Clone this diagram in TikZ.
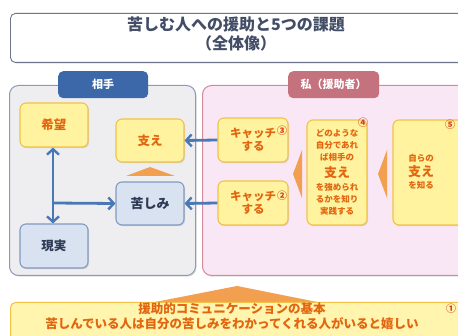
\documentclass[tikz,border=0pt]{standalone}
\usepackage{fontspec}
\setmainfont{Noto Sans CJK JP}
\usetikzlibrary{arrows.meta,shadows}
\definecolor{navy}{HTML}{2E3A55}
\definecolor{tabblue}{HTML}{3C67A8}
\definecolor{lpanel}{HTML}{EEEEF0}
\definecolor{lborder}{HTML}{8A9AB8}
\definecolor{ybox}{HTML}{FFF3A0}
\definecolor{yborder}{HTML}{F2C248}
\definecolor{bbox}{HTML}{D9E2F0}
\definecolor{bborder}{HTML}{8299C2}
\definecolor{otext}{HTML}{E2650F}
\definecolor{arrowblue}{HTML}{4A78B4}
\definecolor{rpanel}{HTML}{F9E7F6}
\definecolor{rborder}{HTML}{D38A9A}
\definecolor{tabrose}{HTML}{C4727E}
\definecolor{tri}{HTML}{F2A050}
\definecolor{numred}{HTML}{D8401A}
\begin{document}
\begin{tikzpicture}[x=1pt,y=-1pt,
  >={Straight Barb[length=5.5pt,width=12pt,line width=2.4pt]},
  shade/.style={drop shadow={shadow xshift=1pt,shadow yshift=-1.2pt,opacity=0.25}},
  ybox/.style={draw=yborder,line width=1.1pt,fill=ybox,rounded corners=6pt,shade,
     text=otext,font=\bfseries,align=center,inner sep=0pt},
  bbox/.style={draw=bborder,line width=1.1pt,fill=bbox,rounded corners=6pt,shade,
     text=navy,font=\bfseries,align=center,inner sep=0pt},
  tabnode/.style={rounded corners=5pt,text=white,font=\bfseries\fontsize{11}{13}\selectfont,inner sep=0pt},
  num/.style={text=numred,font=\bfseries\fontsize{10}{10}\selectfont,inner sep=0pt},
  barrow/.style={draw=arrowblue,line width=2.8pt,->},
  triangle/.style={fill=tri,draw=none}
]
\clip (0,0) rectangle (458,336);
\fill[white] (0,0) rectangle (458,336);

% title
\node[draw=navy!70,line width=0.9pt,fill=white,rounded corners=5pt,shade,
  minimum width=470pt,minimum height=49pt,anchor=north west,inner sep=0pt] (title) at (10,13) {};
\node[text=navy!90,font=\bfseries\fontsize{16}{19}\selectfont,align=center] (titletext) at (236,34)
  {苦しむ人への援助と5つの課題\\（全体像）};

% left panel
\node[draw=lborder,line width=1pt,fill=lpanel,rounded corners=9pt,shade,
  minimum width=186pt,minimum height=190pt,anchor=north west,inner sep=0pt] (lpanel) at (9,85) {};
\node[tabnode,fill=tabblue,minimum width=90pt,minimum height=27pt,anchor=north west] (ltab) at (58,71) {相手};

% right panel
\node[draw=rborder,line width=1pt,fill=rpanel,rounded corners=9pt,shade,
  minimum width=270pt,minimum height=190pt,anchor=north west,inner sep=0pt] (rpanel) at (202,85) {};
\node[tabnode,fill=tabrose,minimum width=91pt,minimum height=27pt,anchor=north west] (rtab) at (288,71) {私（援助者）};

% left boxes
\node[ybox,minimum width=68pt,minimum height=44pt,font=\bfseries\fontsize{12.5}{14}\selectfont] (kibou) at (54,125) {希望};
\node[ybox,minimum width=68pt,minimum height=43pt,font=\bfseries\fontsize{12.5}{14}\selectfont] (sasae) at (150,140.5) {支え};
\node[bbox,minimum width=68pt,minimum height=43pt,font=\bfseries\fontsize{13}{14}\selectfont] (kurushimi) at (150,203.5) {苦しみ};
\node[bbox,minimum width=68pt,minimum height=44pt,font=\bfseries\fontsize{12.5}{14}\selectfont] (genjitsu) at (54,246) {現実};
\fill[triangle] (126,176) -- (150,167) -- (175,176) -- cycle;

% arrows in left panel
\coordinate (junc) at (53,203);
\draw[arrowblue,line width=2.8pt,<->]
  (kibou.south -| junc) -- (genjitsu.north -| junc);
\draw[barrow] (junc) -- (kurushimi.west);

% right boxes
\node[ybox,minimum width=70pt,minimum height=44pt,font=\bfseries\fontsize{11.5}{13.5}\selectfont] (catch3) at (253,140) {キャッチ\\する};
\node[ybox,minimum width=70pt,minimum height=44pt,font=\bfseries\fontsize{11.5}{13.5}\selectfont] (catch2) at (253,203) {キャッチ\\する};
\node[ybox,minimum width=60pt,minimum height=105pt] (box4) at (337,172.5) {};
\node[ybox,minimum width=80pt,minimum height=105pt] (box5) at (433,172.5) {};

\node[text=otext,font=\bfseries\fontsize{8.5}{12}\selectfont,align=center,inner sep=0pt] (t4a) at (337,145) {どのような\\自分であれ\\ば相手の};
\node[text=otext,font=\bfseries\fontsize{13}{14}\selectfont,inner sep=0pt] (t4b) at (337,173) {支え};
\node[text=otext,font=\bfseries\fontsize{8.5}{12}\selectfont,align=center,inner sep=0pt] (t4c) at (337,199) {を強められ\\るかを知り\\実践する};

\node[text=otext,font=\bfseries\fontsize{8.5}{12}\selectfont,inner sep=0pt] (t5a) at (421,158) {自らの};
\node[text=otext,font=\bfseries\fontsize{13}{14}\selectfont,inner sep=0pt] (t5b) at (421,172) {支え};
\node[text=otext,font=\bfseries\fontsize{8.5}{12}\selectfont,inner sep=0pt] (t5c) at (421,185) {を知る};

\node[num] (n3) at (282,131) {③};
\node[num] (n2) at (282,196) {②};
\node[num] (n4) at (363,123) {④};
\node[num] (n5) at (450,125) {⑤};

\fill[triangle] (293,174) -- (302,150) -- (302,198) -- cycle;
\fill[triangle] (378,174) -- (387,150) -- (387,198) -- cycle;

% arrows from catch boxes
\draw[barrow] (catch3.west) -- (sasae.east);
\draw[barrow] (catch2.west) -- (kurushimi.east);

% bottom
\fill[triangle] (150,303) -- (237,286) -- (322,303) -- cycle;
\node[draw=yborder,line width=1pt,fill=ybox!85,rounded corners=5pt,
  minimum width=470pt,minimum height=45pt,anchor=north west,inner sep=0pt] (base) at (10,302) {};
\node[text=otext,font=\bfseries\fontsize{12.5}{15}\selectfont,align=center,inner sep=0pt] (basetext) at (232,316)
  {援助的コミュニケーションの基本\\苦しんでいる人は自分の苦しみをわかってくれる人がいると嬉しい};
\node[num] (n1) at (451,309) {①};
\end{tikzpicture}
\end{document}
